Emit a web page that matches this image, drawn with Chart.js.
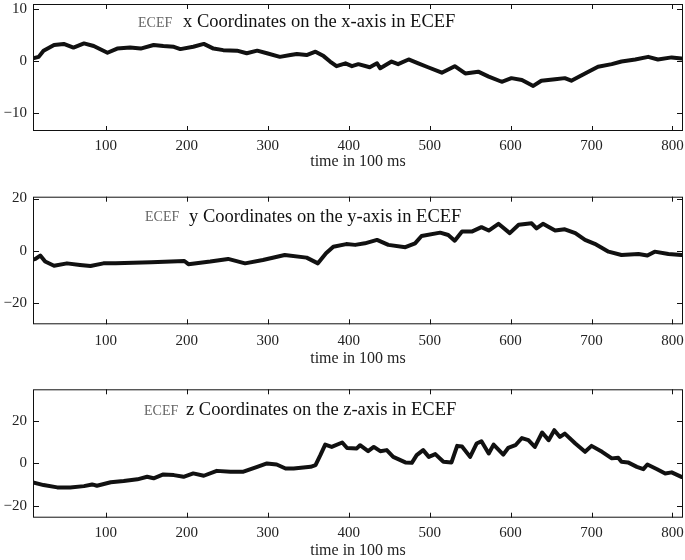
<!DOCTYPE html>
<html>
<head>
<meta charset="utf-8">
<script src="https://cdn.jsdelivr.net/npm/chart.js@4.4.0/dist/chart.umd.min.js"></script>
<style>
  body { margin: 0; background: #fff; width: 685px; height: 560px; position: relative; overflow: hidden; }
  canvas { position: absolute; left: 0; }
</style>
</head>
<body>
<canvas id="cx" width="685" height="175" style="top:0px"></canvas>
<canvas id="cy" width="685" height="185" style="top:185px"></canvas>
<canvas id="cz" width="685" height="185" style="top:375px"></canvas>
<script>
// time axis ticks (time in 100 ms)
const timeTicks = [100, 200, 300, 400, 500, 600, 700, 800]

// ECEF x
const timeX = [10, 17, 23, 36, 48, 60, 73, 85, 102, 114, 130, 143, 159, 171, 184, 192, 208, 221, 233, 245, 262, 274, 287, 299, 315, 328, 336, 348, 359, 369, 377, 385, 396, 404, 412, 426, 435, 439, 453, 461, 474, 486, 498, 515, 531, 544, 560, 573, 589, 601, 614, 628, 638, 655, 667, 675, 692, 708, 725, 737, 754, 770, 782, 799, 811]
const ecefX = [0.5, 0.8, 2.0, 3.1, 3.3, 2.6, 3.4, 2.9, 1.6, 2.4, 2.6, 2.4, 3.1, 2.9, 2.75, 2.3, 2.75, 3.3, 2.4, 2.1, 2.0, 1.5, 2.0, 1.5, 0.8, 1.15, 1.35, 1.15, 1.8, 0.95, -0.1, -1.0, -0.45, -1.0, -0.6, -1.2, -0.45, -1.4, -0.1, -0.6, 0.3, -0.45, -1.2, -2.25, -1.0, -2.4, -2.05, -3.0, -4.0, -3.3, -3.65, -4.8, -3.8, -3.5, -3.3, -3.8, -2.4, -1.1, -0.6, -0.1, 0.3, 0.8, 0.3, 0.7, 0.5]
const ticksX = [-10, 0, 10]

// ECEF y
const timeY = [10, 13, 19, 25, 36, 52, 68, 81, 97, 112, 156, 197, 202, 229, 251, 272, 294, 321, 348, 362, 372, 381, 397, 408, 420, 435, 449, 470, 482, 490, 513, 523, 531, 540, 552, 564, 573, 585, 599, 610, 626, 632, 640, 655, 667, 680, 692, 704, 721, 737, 758, 769, 778, 795, 811]
const ecefY = [-3.5, -3.2, -1.9, -4.2, -5.8, -4.9, -5.5, -5.9, -4.9, -4.9, -4.5, -4.0, -5.2, -4.2, -3.2, -4.9, -3.6, -1.7, -2.7, -4.9, -1.0, 1.5, 2.5, 2.2, 2.8, 4.1, 2.2, 1.3, 2.8, 5.6, 6.9, 6.0, 3.8, 7.3, 7.3, 9.0, 7.7, 10.3, 6.7, 9.9, 10.5, 8.5, 10.3, 7.7, 8.2, 6.7, 4.1, 2.6, -0.4, -1.7, -1.3, -1.9, -0.4, -1.3, -1.7]
const ticksY = [-20, 0, 20]

// ECEF z
const timeZ = [10, 23, 40, 56, 73, 83, 89, 106, 122, 139, 151, 159, 171, 184, 196, 208, 221, 237, 254, 270, 287, 299, 311, 322, 332, 353, 359, 365, 371, 379, 392, 398, 410, 414, 424, 431, 439, 447, 455, 470, 478, 484, 492, 499, 507, 517, 527, 534, 540, 550, 558, 564, 573, 579, 591, 597, 606, 614, 622, 630, 639, 647, 654, 661, 667, 680, 692, 700, 713, 725, 733, 737, 745, 756, 764, 769, 781, 791, 799, 811]
const ecefZ = [-8.9, -10.2, -11.3, -11.3, -10.7, -9.9, -10.5, -8.9, -8.3, -7.5, -6.3, -7.0, -5.2, -5.5, -6.3, -4.7, -5.8, -3.5, -3.9, -3.9, -1.6, 0, -0.5, -2.4, -2.4, -1.6, -0.8, 3.9, 8.9, 7.8, 9.9, 7.3, 7.1, 8.6, 5.8, 7.8, 5.8, 6.3, 3.1, 0.5, 0.3, 3.9, 6.3, 3.1, 4.4, 0.8, 0.5, 8.3, 8.0, 3.1, 9.4, 10.5, 4.7, 8.9, 4.2, 7.3, 8.6, 12.0, 11.0, 7.8, 14.6, 11.0, 15.7, 12.5, 14.1, 9.4, 5.5, 8.3, 5.5, 2.4, 2.7, 0.8, 0.5, -1.6, -2.7, -0.5, -2.7, -4.7, -4.2, -6.3]
const ticksZ = [-20, 0, 20]

const serif = '"Liberation Serif", "DejaVu Serif", serif'

// frame with inward ticks on all four sides + caption inside the plot
const framePlugin = {
  id: 'frame',
  afterDraw(chart, args, opts) {
    const { ctx, chartArea: a, scales } = chart
    ctx.save()
    ctx.strokeStyle = '#111'
    ctx.lineWidth = 1
    ctx.strokeRect(a.left + 0.5, a.top + 0.5, a.right - a.left - 1, a.bottom - a.top - 1)
    ctx.beginPath()
    scales.x.ticks.forEach(t => {
      const px = Math.round(scales.x.getPixelForValue(t.value)) + 0.5
      ctx.moveTo(px, a.bottom); ctx.lineTo(px, a.bottom - 5)
      ctx.moveTo(px, a.top); ctx.lineTo(px, a.top + 5)
    })
    scales.y.ticks.forEach(t => {
      const py = Math.round(scales.y.getPixelForValue(t.value)) + 0.5
      ctx.moveTo(a.left, py); ctx.lineTo(a.left + 6, py)
      ctx.moveTo(a.right, py); ctx.lineTo(a.right - 6, py)
    })
    ctx.stroke()

    // caption
    const y = a.top + opts.dy
    ctx.textBaseline = 'middle'
    ctx.font = '14px ' + serif
    ctx.fillStyle = '#666'
    ctx.fillText('ECEF', opts.x0, y + 1)
    ctx.font = '18.5px ' + serif
    ctx.fillStyle = '#111'
    ctx.fillText(opts.text, opts.x1, y)
    ctx.restore()
  }
}

function makePanel(id, times, values, yTicks, yMin, yMax, pad, xHeight, tickPad, titlePad, caption) {
  new Chart(document.getElementById(id), {
    type: 'line',
    data: {
      datasets: [{
        data: times.map((t, i) => ({ x: t, y: values[i] })),
        borderColor: '#111',
        borderWidth: 4,
        pointRadius: 0,
        tension: 0,
        borderJoinStyle: 'round',
        borderCapStyle: 'round'
      }]
    },
    options: {
      responsive: false,
      animation: false,
      layout: { padding: { top: pad, right: 2, left: 0, bottom: 0 } },
      plugins: {
        legend: { display: false },
        tooltip: { enabled: false },
        frame: caption
      },
      scales: {
        x: {
          type: 'linear',
          min: 10,
          max: 813,
          afterBuildTicks: s => { s.ticks = timeTicks.map(v => ({ value: v })) },
          afterFit: s => { s.height = xHeight; s.paddingLeft = 0; s.paddingRight = 0 },
          grid: { display: false, drawTicks: false },
          border: { display: false },
          ticks: { color: '#222', padding: tickPad, font: { family: serif, size: 15 } },
          title: {
            display: true,
            text: 'time in 100 ms',
            color: '#222',
            font: { family: serif, size: 16 },
            padding: { top: 0, bottom: titlePad }
          }
        },
        y: {
          min: yMin,
          max: yMax,
          afterBuildTicks: s => { s.ticks = yTicks.map(v => ({ value: v })) },
          afterFit: s => { s.width = 33; s.paddingTop = 0; s.paddingBottom = 0 },
          grid: { display: false, drawTicks: false },
          border: { display: false },
          ticks: {
            color: '#222',
            padding: 6,
            font: { family: serif, size: 15 },
            callback: v => String(v).replace('-', '\u2212')
          }
        }
      }
    },
    plugins: [framePlugin]
  })
}

makePanel('cx', timeX, ecefX, ticksX, -13.5, 11, 4, 44, 6, 4,
  { x0: 138, x1: 183, dy: 18, text: 'x Coordinates on the x-axis in ECEF' })
makePanel('cy', timeY, ecefY, ticksY, -28.3, 20.7, 11.7, 45.7, 8, 2,
  { x0: 145, x1: 189, dy: 20, text: 'y Coordinates on the y-axis in ECEF' })
makePanel('cz', timeZ, ecefZ, ticksZ, -25.6, 35, 14.3, 42.3, 6, 0,
  { x0: 144, x1: 186, dy: 21, text: 'z Coordinates on the z-axis in ECEF' })
</script>
</body>
</html>
